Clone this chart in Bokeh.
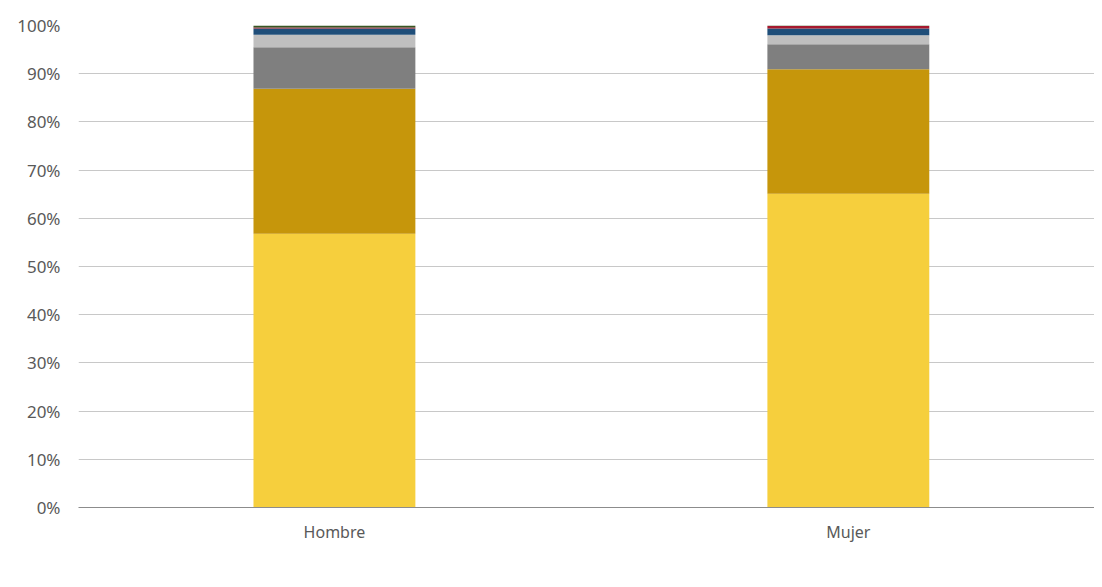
from bokeh.plotting import figure
from bokeh.models import ColumnDataSource, Range1d, FixedTicker, Legend, LegendItem
from bokeh.embed import file_html
from bokeh.resources import INLINE

categories = ["Hombre", "Mujer"]
series_names = ["0", "1", "2", "3", "4", "5", "6"]
v0 = [56.8, 65.1]
v1 = [30.1, 25.8]
v2 = [8.6, 5.2]
v3 = [2.6, 1.9]
v4 = [1.3, 1.4]
v5 = [0.2, 0.5]
v6 = [0.4, 0.1]
y_ticks = list(range(0, 101, 10))
colors = ["#F6CF3D", "#C6960B", "#7F7F7F", "#BFBFBF", "#1F4E79", "#A6192E", "#375623"]

FONT = "Noto Sans"
TXT = "#595959"

xs = [i + 0.5 for i in range(len(categories))]
data = dict(x=xs)
for name, vals in zip(series_names, [v0, v1, v2, v3, v4, v5, v6]):
    data[name] = vals
src = ColumnDataSource(data)

p = figure(frame_width=1016, frame_height=482, output_backend="svg", toolbar_location=None,
           x_range=Range1d(0.002, 1.979), y_range=Range1d(0, 100),
           min_border_left=78, min_border_right=0, min_border_top=25, min_border_bottom=0)
p.outline_line_color = None
renderers = p.vbar_stack(series_names, x="x", width=0.315, source=src, color=colors, line_color=None)

p.xaxis.ticker = FixedTicker(ticks=xs)
p.xaxis.major_label_overrides = {x: c for x, c in zip(xs, categories)}
p.xaxis.major_tick_line_color = None
p.xaxis.minor_tick_line_color = None
p.xaxis.axis_line_color = "#8c8c8c"
p.xaxis.major_label_text_font = FONT
p.xaxis.major_label_text_font_size = "16px"
p.xaxis.major_label_text_color = TXT
p.xaxis.major_label_standoff = 7
p.xgrid.grid_line_color = None

p.yaxis.ticker = FixedTicker(ticks=y_ticks)
p.yaxis.major_label_overrides = {t: f"{t}%" for t in y_ticks}
p.yaxis.axis_line_color = None
p.yaxis.major_tick_line_color = None
p.yaxis.minor_tick_line_color = None
p.yaxis.major_label_text_font = FONT
p.yaxis.major_label_text_font_size = "17px"
p.yaxis.major_label_text_color = TXT
p.yaxis.major_label_standoff = 12
p.ygrid.grid_line_color = "#c8c8c8"
p.ygrid.grid_line_width = 1

legend = Legend(items=[LegendItem(label=n, renderers=[r]) for n, r in zip(series_names, renderers)],
                orientation="horizontal", location=(372, 8),
                label_text_font=FONT, label_text_font_size="18px", label_text_color=TXT,
                glyph_width=11, glyph_height=11, label_standoff=3, spacing=13,
                label_width=10, label_height=18,
                padding=0, margin=3, border_line_color=None, background_fill_alpha=0)
p.add_layout(legend, "below")

open("out.html", "w").write(file_html(p, INLINE))
